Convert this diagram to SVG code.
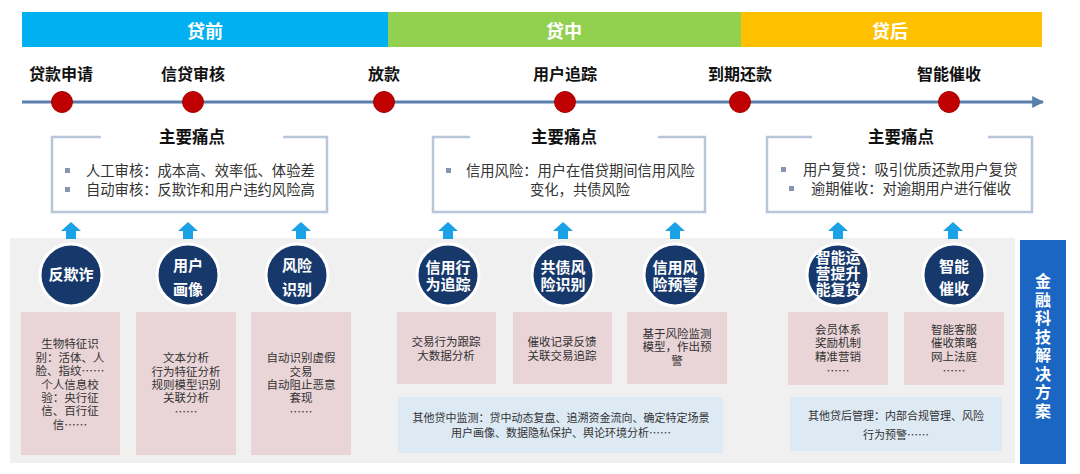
<svg xmlns="http://www.w3.org/2000/svg" xmlns:xlink="http://www.w3.org/1999/xlink" width="1080" height="474" viewBox="0 0 1080 474">
<style>
text{font-family:"Noto Sans CJK SC","Noto Sans",sans-serif;}
.phase{font-size:18px;font-weight:bold;fill:#ffffff;text-anchor:middle;}
.tl{font-size:16px;font-weight:bold;fill:#111111;text-anchor:middle;}
.dot{fill:#c00000;stroke:#a80000;stroke-width:1;}
.pbox{fill:none;stroke:#b9c5d8;stroke-width:2.5;}
.ptitle{font-size:16.5px;font-weight:bold;fill:#111111;text-anchor:middle;}
.pt{font-size:14.3px;fill:#333333;}
.bul{fill:#8696b0;}
.circ{fill:#17386b;stroke:#ffffff;stroke-width:3;}
.ct{font-size:15px;font-weight:bold;fill:#ffffff;text-anchor:middle;}
.pink{fill:#e9d4d7;}
.lblue{fill:#dde9f3;}
.st{font-size:11.5px;fill:#333333;text-anchor:middle;}
.bt{font-size:11px;fill:#333333;text-anchor:middle;}
.vt{font-size:16px;font-weight:bold;fill:#ffffff;letter-spacing:2.5px;}
.up{fill:#1ba1e6;}
</style>
<defs>
<path id="uparrow" d="M-10,9 L0,0 L10,9 L5,9 L5,17 L-5,17 L-5,9 Z"/>
<marker id="tlarrow" viewBox="0 0 10 10" refX="9" refY="5" markerWidth="4" markerHeight="4" orient="auto" markerUnits="strokeWidth">
<path d="M0,0 L10,5 L0,10 Z" fill="#5a7fab"/>
</marker>
</defs>
<rect width="1080" height="474" fill="#ffffff"/>

<g id="phase-bar">
<rect x="22" y="12" width="366" height="35" fill="#00b0f0"/>
<rect x="388" y="12" width="353" height="35" fill="#92d050"/>
<rect x="741" y="12" width="301" height="35" fill="#ffc000"/>
<text class="phase" x="205" y="38">贷前</text>
<text class="phase" x="564" y="38">贷中</text>
<text class="phase" x="890" y="38">贷后</text>
</g>

<rect id="solution-bg" x="10" y="238" width="1005" height="225" fill="#f0f0f1"/>

<g id="connectors">
<line x1="22" y1="102" x2="1043" y2="102" stroke="#5a7fab" stroke-width="3" marker-end="url(#tlarrow)"/>
<use xlink:href="#uparrow" class="up" x="71" y="222"/>
<use xlink:href="#uparrow" class="up" x="188" y="222"/>
<use xlink:href="#uparrow" class="up" x="301" y="222"/>
<use xlink:href="#uparrow" class="up" x="448" y="222"/>
<use xlink:href="#uparrow" class="up" x="563" y="222"/>
<use xlink:href="#uparrow" class="up" x="675" y="222"/>
<use xlink:href="#uparrow" class="up" x="838" y="222"/>
<use xlink:href="#uparrow" class="up" x="953" y="222"/>
</g>

<g id="timeline">
<g id="tl-apply"><text class="tl" x="61" y="80">贷款申请</text><circle class="dot" cx="62" cy="102" r="10.5"/></g>
<g id="tl-review"><text class="tl" x="193" y="80">信贷审核</text><circle class="dot" cx="193" cy="102" r="10.5"/></g>
<g id="tl-lend"><text class="tl" x="384" y="80">放款</text><circle class="dot" cx="384" cy="102" r="10.5"/></g>
<g id="tl-track"><text class="tl" x="565" y="80">用户追踪</text><circle class="dot" cx="565" cy="102" r="10.5"/></g>
<g id="tl-repay"><text class="tl" x="740" y="80">到期还款</text><circle class="dot" cx="740" cy="102" r="10.5"/></g>
<g id="tl-collect"><text class="tl" x="949" y="80">智能催收</text><circle class="dot" cx="949" cy="102" r="10.5"/></g>
</g>

<g id="pain-pre">
<path class="pbox" d="M101,137 L52,137 L52,212 L327,212 L327,137 L283,137"/>
<text class="ptitle" x="192" y="143">主要痛点</text>
<rect class="bul" x="65" y="168" width="5" height="5"/>
<rect class="bul" x="65" y="187" width="5" height="5"/>
<text class="pt"><tspan x="86" y="176">人工审核：成本高、效率低、体验差</tspan><tspan x="86" y="195">自动审核：反欺诈和用户违约风险高</tspan></text>
</g>

<g id="pain-mid">
<path class="pbox" d="M470,137 L433,137 L433,212 L705,212 L705,137 L658,137"/>
<text class="ptitle" x="564" y="143">主要痛点</text>
<rect class="bul" x="446" y="168" width="5" height="5"/>
<text class="pt"><tspan x="466" y="176">信用风险：用户在借贷期间信用风险</tspan><tspan x="530" y="195">变化，共债风险</tspan></text>
</g>

<g id="pain-post">
<path class="pbox" d="M812,137 L767,137 L767,212 L1032,212 L1032,137 L988,137"/>
<text class="ptitle" x="901" y="143">主要痛点</text>
<rect class="bul" x="781" y="167" width="5" height="5"/>
<rect class="bul" x="789" y="186" width="5" height="5"/>
<text class="pt"><tspan x="803" y="175">用户复贷：吸引优质还款用户复贷</tspan><tspan x="811" y="194">逾期催收：对逾期用户进行催收</tspan></text>
</g>

<g id="sol-antifraud">
<circle class="circ" cx="71" cy="275" r="31"/>
<text class="ct" x="71" y="280">反欺诈</text>
<rect class="pink" x="21" y="312" width="99" height="143"/>
<text class="st"><tspan x="70" y="348">生物特征识</tspan><tspan x="70" y="362">别：活体、人</tspan><tspan x="70" y="375">脸、指纹……</tspan><tspan x="70" y="389">个人信息校</tspan><tspan x="70" y="402">验：央行征</tspan><tspan x="70" y="415">信、百行征</tspan><tspan x="70" y="429">信……</tspan></text>
</g>

<g id="sol-profile">
<circle class="circ" cx="188" cy="275" r="31"/>
<text class="ct"><tspan x="188" y="271">用户</tspan><tspan x="188" y="295">画像</tspan></text>
<rect class="pink" x="136" y="312" width="100" height="143"/>
<text class="st"><tspan x="186" y="362">文本分析</tspan><tspan x="186" y="376">行为特征分析</tspan><tspan x="186" y="389">规则模型识别</tspan><tspan x="186" y="402">关联分析</tspan><tspan x="186" y="416">……</tspan></text>
</g>

<g id="sol-risk">
<circle class="circ" cx="297" cy="275" r="31"/>
<text class="ct"><tspan x="297" y="271">风险</tspan><tspan x="297" y="295">识别</tspan></text>
<rect class="pink" x="251" y="312" width="100" height="143"/>
<text class="st"><tspan x="301" y="362">自动识别虚假</tspan><tspan x="301" y="376">交易</tspan><tspan x="301" y="389">自动阻止恶意</tspan><tspan x="301" y="402">套现</tspan><tspan x="301" y="416">……</tspan></text>
</g>

<g id="sol-credit-track">
<circle class="circ" cx="448" cy="275" r="31"/>
<text class="ct"><tspan x="448" y="273">信用行</tspan><tspan x="448" y="290">为追踪</tspan></text>
<rect class="pink" x="397" y="312" width="99" height="72"/>
<text class="st"><tspan x="446" y="346">交易行为跟踪</tspan><tspan x="446" y="360">大数据分析</tspan></text>
</g>

<g id="sol-debt">
<circle class="circ" cx="563" cy="275" r="31"/>
<text class="ct"><tspan x="563" y="273">共债风</tspan><tspan x="563" y="290">险识别</tspan></text>
<rect class="pink" x="513" y="312" width="99" height="72"/>
<text class="st"><tspan x="562" y="346">催收记录反馈</tspan><tspan x="562" y="360">关联交易追踪</tspan></text>
</g>

<g id="sol-warning">
<circle class="circ" cx="675" cy="275" r="31"/>
<text class="ct"><tspan x="675" y="273">信用风</tspan><tspan x="675" y="290">险预警</tspan></text>
<rect class="pink" x="627" y="312" width="100" height="72"/>
<text class="st"><tspan x="677" y="338">基于风险监测</tspan><tspan x="677" y="351">模型，作出预</tspan><tspan x="677" y="365">警</tspan></text>
</g>

<g id="sol-mid-other">
<rect class="lblue" x="398" y="397" width="325" height="56"/>
<text class="bt"><tspan x="561" y="422">其他贷中监测：贷中动态复盘、追溯资金流向、确定特定场景</tspan><tspan x="561" y="437">用户画像、数据隐私保护、舆论环境分析……</tspan></text>
</g>

<g id="sol-reloan">
<circle class="circ" cx="838" cy="275" r="31"/>
<text class="ct"><tspan x="838" y="263">智能运</tspan><tspan x="838" y="279">营提升</tspan><tspan x="838" y="295">能复贷</tspan></text>
<rect class="pink" x="788" y="312" width="100" height="73"/>
<text class="st"><tspan x="838" y="334">会员体系</tspan><tspan x="838" y="347">奖励机制</tspan><tspan x="838" y="361">精准营销</tspan><tspan x="838" y="375">……</tspan></text>
</g>

<g id="sol-collect">
<circle class="circ" cx="954" cy="275" r="31"/>
<text class="ct"><tspan x="954" y="272">智能</tspan><tspan x="954" y="294">催收</tspan></text>
<rect class="pink" x="904" y="312" width="100" height="73"/>
<text class="st"><tspan x="954" y="334">智能客服</tspan><tspan x="954" y="347">催收策略</tspan><tspan x="954" y="361">网上法庭</tspan><tspan x="954" y="375">……</tspan></text>
</g>

<g id="sol-post-other">
<rect class="lblue" x="790" y="397" width="212" height="54"/>
<text class="bt"><tspan x="896" y="420">其他贷后管理：内部合规管理、风险</tspan><tspan x="896" y="439">行为预警……</tspan></text>
</g>

<g id="fintech-label">
<rect x="1020" y="240" width="46" height="224" fill="#1a66c2"/>
<text class="vt" x="1043" y="273" writing-mode="vertical-rl">金融科技解决方案</text>
</g>
</svg>
